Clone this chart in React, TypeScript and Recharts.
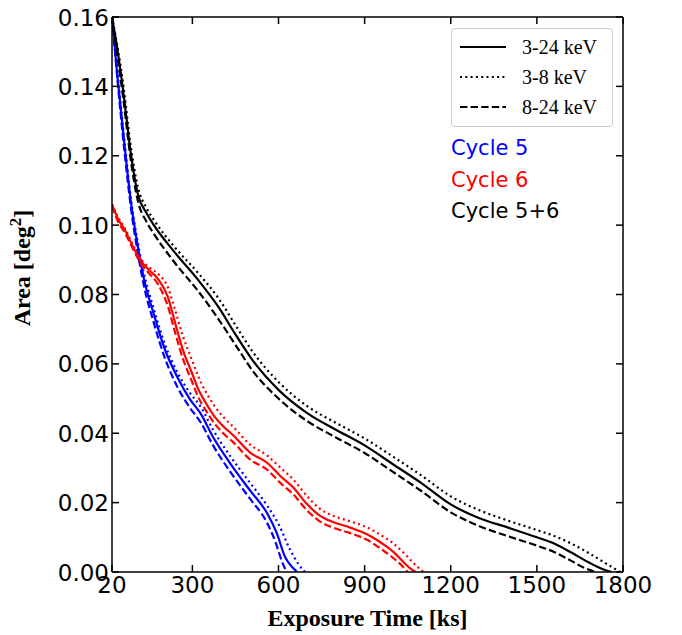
import React from "react";
import { LineChart, Line, XAxis, YAxis, Label } from "recharts";

const xTicks = [20, 300, 600, 900, 1200, 1500, 1800];
const yTicks = [0, 0.02, 0.04, 0.06, 0.08, 0.1, 0.12, 0.14, 0.16];

// Cycle 5 (blue)
const c5SolidT = [20, 40, 65, 86, 111, 130, 165, 205, 250, 290, 330, 372, 431, 500, 560, 594, 623, 650, 665];
const c5SolidA = [0.16, 0.142, 0.122, 0.1066, 0.0933, 0.085, 0.0745, 0.064, 0.0558, 0.05, 0.0455, 0.0389, 0.0314, 0.0236, 0.017, 0.0112, 0.0043, 0.0012, 0];
const c5DotT = [20, 40, 65, 86, 111, 130, 165, 205, 250, 290, 330, 372, 431, 500, 560, 600, 640, 670, 692];
const c5DotA = [0.16, 0.143, 0.123, 0.1075, 0.0945, 0.0865, 0.076, 0.0655, 0.0572, 0.0518, 0.0475, 0.041, 0.0335, 0.0258, 0.0192, 0.0138, 0.0065, 0.0022, 0];
const c5DashT = [20, 40, 65, 86, 111, 130, 165, 205, 250, 290, 330, 372, 431, 500, 560, 590, 610, 628];
const c5DashA = [0.16, 0.141, 0.12, 0.105, 0.0915, 0.083, 0.072, 0.0615, 0.053, 0.0475, 0.043, 0.0365, 0.029, 0.0212, 0.0142, 0.0085, 0.0035, 0];

// Cycle 6 (red)
const c6SolidT = [20, 40, 65, 95, 124, 150, 180, 215, 240, 267, 299, 320, 345, 380, 410, 441, 500, 560, 610, 650, 700, 740, 790, 850, 910, 965, 1000, 1030, 1060, 1078];
const c6SolidA = [0.106, 0.102, 0.0985, 0.0935, 0.0893, 0.087, 0.0845, 0.0792, 0.0718, 0.064, 0.0573, 0.0528, 0.049, 0.0445, 0.0418, 0.0395, 0.0345, 0.0315, 0.0274, 0.0245, 0.0195, 0.0165, 0.0144, 0.0128, 0.0108, 0.008, 0.0058, 0.0033, 0.001, 0];
const c6DotT = [20, 40, 65, 95, 124, 150, 180, 215, 240, 267, 299, 320, 345, 380, 410, 441, 500, 560, 610, 650, 700, 740, 790, 850, 910, 965, 1000, 1040, 1080, 1105];
const c6DotA = [0.106, 0.1025, 0.099, 0.094, 0.0898, 0.0878, 0.086, 0.082, 0.0755, 0.068, 0.061, 0.0565, 0.0522, 0.0475, 0.0445, 0.042, 0.0368, 0.0336, 0.0298, 0.0268, 0.0218, 0.0185, 0.0162, 0.0146, 0.0128, 0.0102, 0.0082, 0.0052, 0.0018, 0];
const c6DashT = [20, 40, 65, 95, 124, 150, 180, 215, 240, 267, 299, 320, 345, 380, 410, 441, 500, 560, 610, 650, 700, 740, 790, 850, 910, 965, 1000, 1030, 1050];
const c6DashA = [0.1055, 0.1012, 0.0978, 0.0928, 0.0885, 0.086, 0.083, 0.0765, 0.069, 0.0615, 0.0548, 0.0505, 0.0468, 0.0425, 0.0398, 0.0375, 0.0325, 0.0295, 0.0254, 0.0225, 0.0177, 0.0148, 0.0128, 0.0112, 0.0092, 0.0062, 0.004, 0.0018, 0];

// Cycle 5+6 (black)
const c56SolidT = [20, 40, 60, 85, 110, 140, 170, 240, 320, 390, 450, 510, 600, 700, 800, 900, 1000, 1100, 1200, 1300, 1400, 1500, 1560, 1620, 1680, 1730, 1760];
const c56SolidA = [0.16, 0.15, 0.138, 0.121, 0.109, 0.1035, 0.0995, 0.092, 0.0842, 0.0765, 0.0685, 0.061, 0.0525, 0.0458, 0.041, 0.0365, 0.031, 0.0255, 0.0195, 0.0155, 0.0128, 0.01, 0.0082, 0.0056, 0.0028, 0.0008, 0];
const c56DotT = [20, 40, 60, 85, 110, 140, 170, 240, 320, 390, 450, 510, 600, 700, 800, 900, 1000, 1100, 1200, 1300, 1400, 1500, 1560, 1620, 1680, 1740, 1790];
const c56DotA = [0.16, 0.151, 0.14, 0.123, 0.111, 0.105, 0.101, 0.0935, 0.0862, 0.079, 0.0712, 0.0635, 0.0548, 0.0478, 0.043, 0.0385, 0.0332, 0.0277, 0.0218, 0.0178, 0.0148, 0.0121, 0.0104, 0.0082, 0.0055, 0.0025, 0];
const c56DashT = [20, 40, 60, 85, 110, 140, 170, 240, 320, 390, 450, 510, 600, 700, 800, 900, 1000, 1100, 1200, 1300, 1400, 1500, 1560, 1620, 1670, 1705];
const c56DashA = [0.16, 0.148, 0.136, 0.119, 0.107, 0.101, 0.097, 0.089, 0.081, 0.073, 0.0655, 0.058, 0.05, 0.0435, 0.0388, 0.0343, 0.0288, 0.0232, 0.0172, 0.0132, 0.0103, 0.0076, 0.0058, 0.0032, 0.001, 0];

const toPoints = (t: number[], a: number[]) => t.map((v, i) => ({ t: v, a: a[i] }));

const DOTTED = "2 3.3";
const DASHED = "7.4 3.2";

// the black dotted curve is tied to the mirrored top/right axes so that
// recharts draws them (same domains, so it lands in the same place)
const series = [
  { key: "c5-solid", color: "#0000ff", dash: undefined, mirror: false, data: toPoints(c5SolidT, c5SolidA) },
  { key: "c5-dot", color: "#0000ff", dash: DOTTED, mirror: false, data: toPoints(c5DotT, c5DotA) },
  { key: "c5-dash", color: "#0000ff", dash: DASHED, mirror: false, data: toPoints(c5DashT, c5DashA) },
  { key: "c6-solid", color: "#ff0000", dash: undefined, mirror: false, data: toPoints(c6SolidT, c6SolidA) },
  { key: "c6-dot", color: "#ff0000", dash: DOTTED, mirror: false, data: toPoints(c6DotT, c6DotA) },
  { key: "c6-dash", color: "#ff0000", dash: DASHED, mirror: false, data: toPoints(c6DashT, c6DashA) },
  { key: "c56-solid", color: "#000000", dash: undefined, mirror: false, data: toPoints(c56SolidT, c56SolidA) },
  { key: "c56-dot", color: "#000000", dash: DOTTED, mirror: true, data: toPoints(c56DotT, c56DotA) },
  { key: "c56-dash", color: "#000000", dash: DASHED, mirror: false, data: toPoints(c56DashT, c56DashA) },
];

const TICK_FONT = "'DejaVu Sans', sans-serif";
const SERIF = "'Liberation Serif', 'Times New Roman', serif";
const TICK_LEN = 7;
const axisLine = { stroke: "#000", strokeWidth: 1.5 };

// ticks point inward, like the matplotlib original
const BottomTick = ({ x, y, payload }: any) => (
  <g>
    <line x1={x} x2={x} y1={y} y2={y - TICK_LEN} stroke="#000" strokeWidth={1.5} />
    <text x={x} y={y + 21} textAnchor="middle" fontSize={23} fontFamily={TICK_FONT} fill="#000">
      {payload.value}
    </text>
  </g>
);

const LeftTick = ({ x, y, payload }: any) => (
  <g>
    <line x1={x} x2={x + TICK_LEN} y1={y} y2={y} stroke="#000" strokeWidth={1.5} />
    <text x={x - 3} y={y + 8.5} textAnchor="end" fontSize={23} fontFamily={TICK_FONT} fill="#000">
      {Number(payload.value).toFixed(2)}
    </text>
  </g>
);

const TopTick = ({ x, y }: any) => (
  <line x1={x} x2={x} y1={y} y2={y + TICK_LEN} stroke="#000" strokeWidth={1.5} />
);

const RightTick = ({ x, y }: any) => (
  <line x1={x} x2={x - TICK_LEN} y1={y} y2={y} stroke="#000" strokeWidth={1.5} />
);

const YTitle = () => (
  <text
    x={30}
    y={268}
    transform="rotate(-90, 30, 268)"
    textAnchor="middle"
    fontSize={24}
    fontWeight="bold"
    fontFamily={SERIF}
    fill="#000"
  >
    Area [deg
    <tspan dy={-9} fontSize={17}>2</tspan>
    <tspan dy={9}>]</tspan>
  </text>
);

const legendRows = [
  { label: "3-24 keV", dash: undefined },
  { label: "3-8 keV", dash: DOTTED },
  { label: "8-24 keV", dash: DASHED },
];

const cycleLabels = [
  { label: "Cycle 5", color: "#0000ff" },
  { label: "Cycle 6", color: "#ff0000" },
  { label: "Cycle 5+6", color: "#000000" },
];

export default function App() {
  return (
    <div style={{ position: "absolute", left: 0, top: 0, width: 682, height: 635, background: "#fff" }}>
      <LineChart width={682} height={635} margin={{ top: 16, right: 58, bottom: 0, left: 0 }}>
        <XAxis
          xAxisId="b"
          dataKey="t"
          type="number"
          domain={[20, 1800]}
          ticks={xTicks}
          interval={0}
          allowDataOverflow
          tickSize={0}
          tickMargin={0}
          tick={<BottomTick />}
          axisLine={axisLine}
          height={63}
        >
          <Label
            value="Exposure Time [ks]"
            position="insideBottom"
            offset={9}
            style={{ fontSize: 24, fontWeight: "bold", fontFamily: SERIF, fill: "#000" }}
          />
        </XAxis>
        <XAxis
          xAxisId="top"
          orientation="top"
          dataKey="t"
          type="number"
          domain={[20, 1800]}
          ticks={xTicks}
          interval={0}
          allowDataOverflow
          tickSize={0}
          tickMargin={0}
          tick={<TopTick />}
          axisLine={axisLine}
          height={1}
        />
        <YAxis
          yAxisId="l"
          type="number"
          domain={[0, 0.16]}
          ticks={yTicks}
          interval={0}
          allowDataOverflow
          tickSize={0}
          tickMargin={0}
          tick={<LeftTick />}
          axisLine={axisLine}
          width={112}
          label={<YTitle />}
        />
        <YAxis
          yAxisId="r"
          orientation="right"
          type="number"
          domain={[0, 0.16]}
          ticks={yTicks}
          interval={0}
          allowDataOverflow
          tickSize={0}
          tickMargin={0}
          tick={<RightTick />}
          axisLine={axisLine}
          width={1}
        />
        {series.map((s) => (
          <Line
            key={s.key}
            data={s.data}
            dataKey="a"
            xAxisId={s.mirror ? "top" : "b"}
            yAxisId={s.mirror ? "r" : "l"}
            type="monotone"
            stroke={s.color}
            strokeWidth={2.2}
            strokeDasharray={s.dash}
            dot={false}
            activeDot={false}
            isAnimationActive={false}
          />
        ))}
      </LineChart>

      <div
        style={{
          position: "absolute",
          left: 451,
          top: 28,
          width: 160,
          height: 97,
          border: "1px solid #cccccc",
          borderRadius: 4,
          background: "rgba(255,255,255,0.85)",
        }}
      >
        {legendRows.map((r, i) => (
          <div
            key={r.label}
            style={{ position: "absolute", left: 7, top: 5 + i * 30, height: 26, display: "flex", alignItems: "center" }}
          >
            <svg width={48} height={10}>
              <line x1={1} x2={47} y1={5} y2={5} stroke="#000" strokeWidth={2.2} strokeDasharray={r.dash} />
            </svg>
            <span style={{ marginLeft: 15, fontFamily: SERIF, fontSize: 20, color: "#000", whiteSpace: "nowrap" }}>
              {r.label}
            </span>
          </div>
        ))}
      </div>

      {cycleLabels.map((c, i) => (
        <div
          key={c.label}
          style={{
            position: "absolute",
            left: 451,
            top: 135 + i * 31.5,
            fontFamily: TICK_FONT,
            fontSize: 21,
            lineHeight: "26px",
            color: c.color,
            whiteSpace: "nowrap",
          }}
        >
          {c.label}
        </div>
      ))}
    </div>
  );
}
